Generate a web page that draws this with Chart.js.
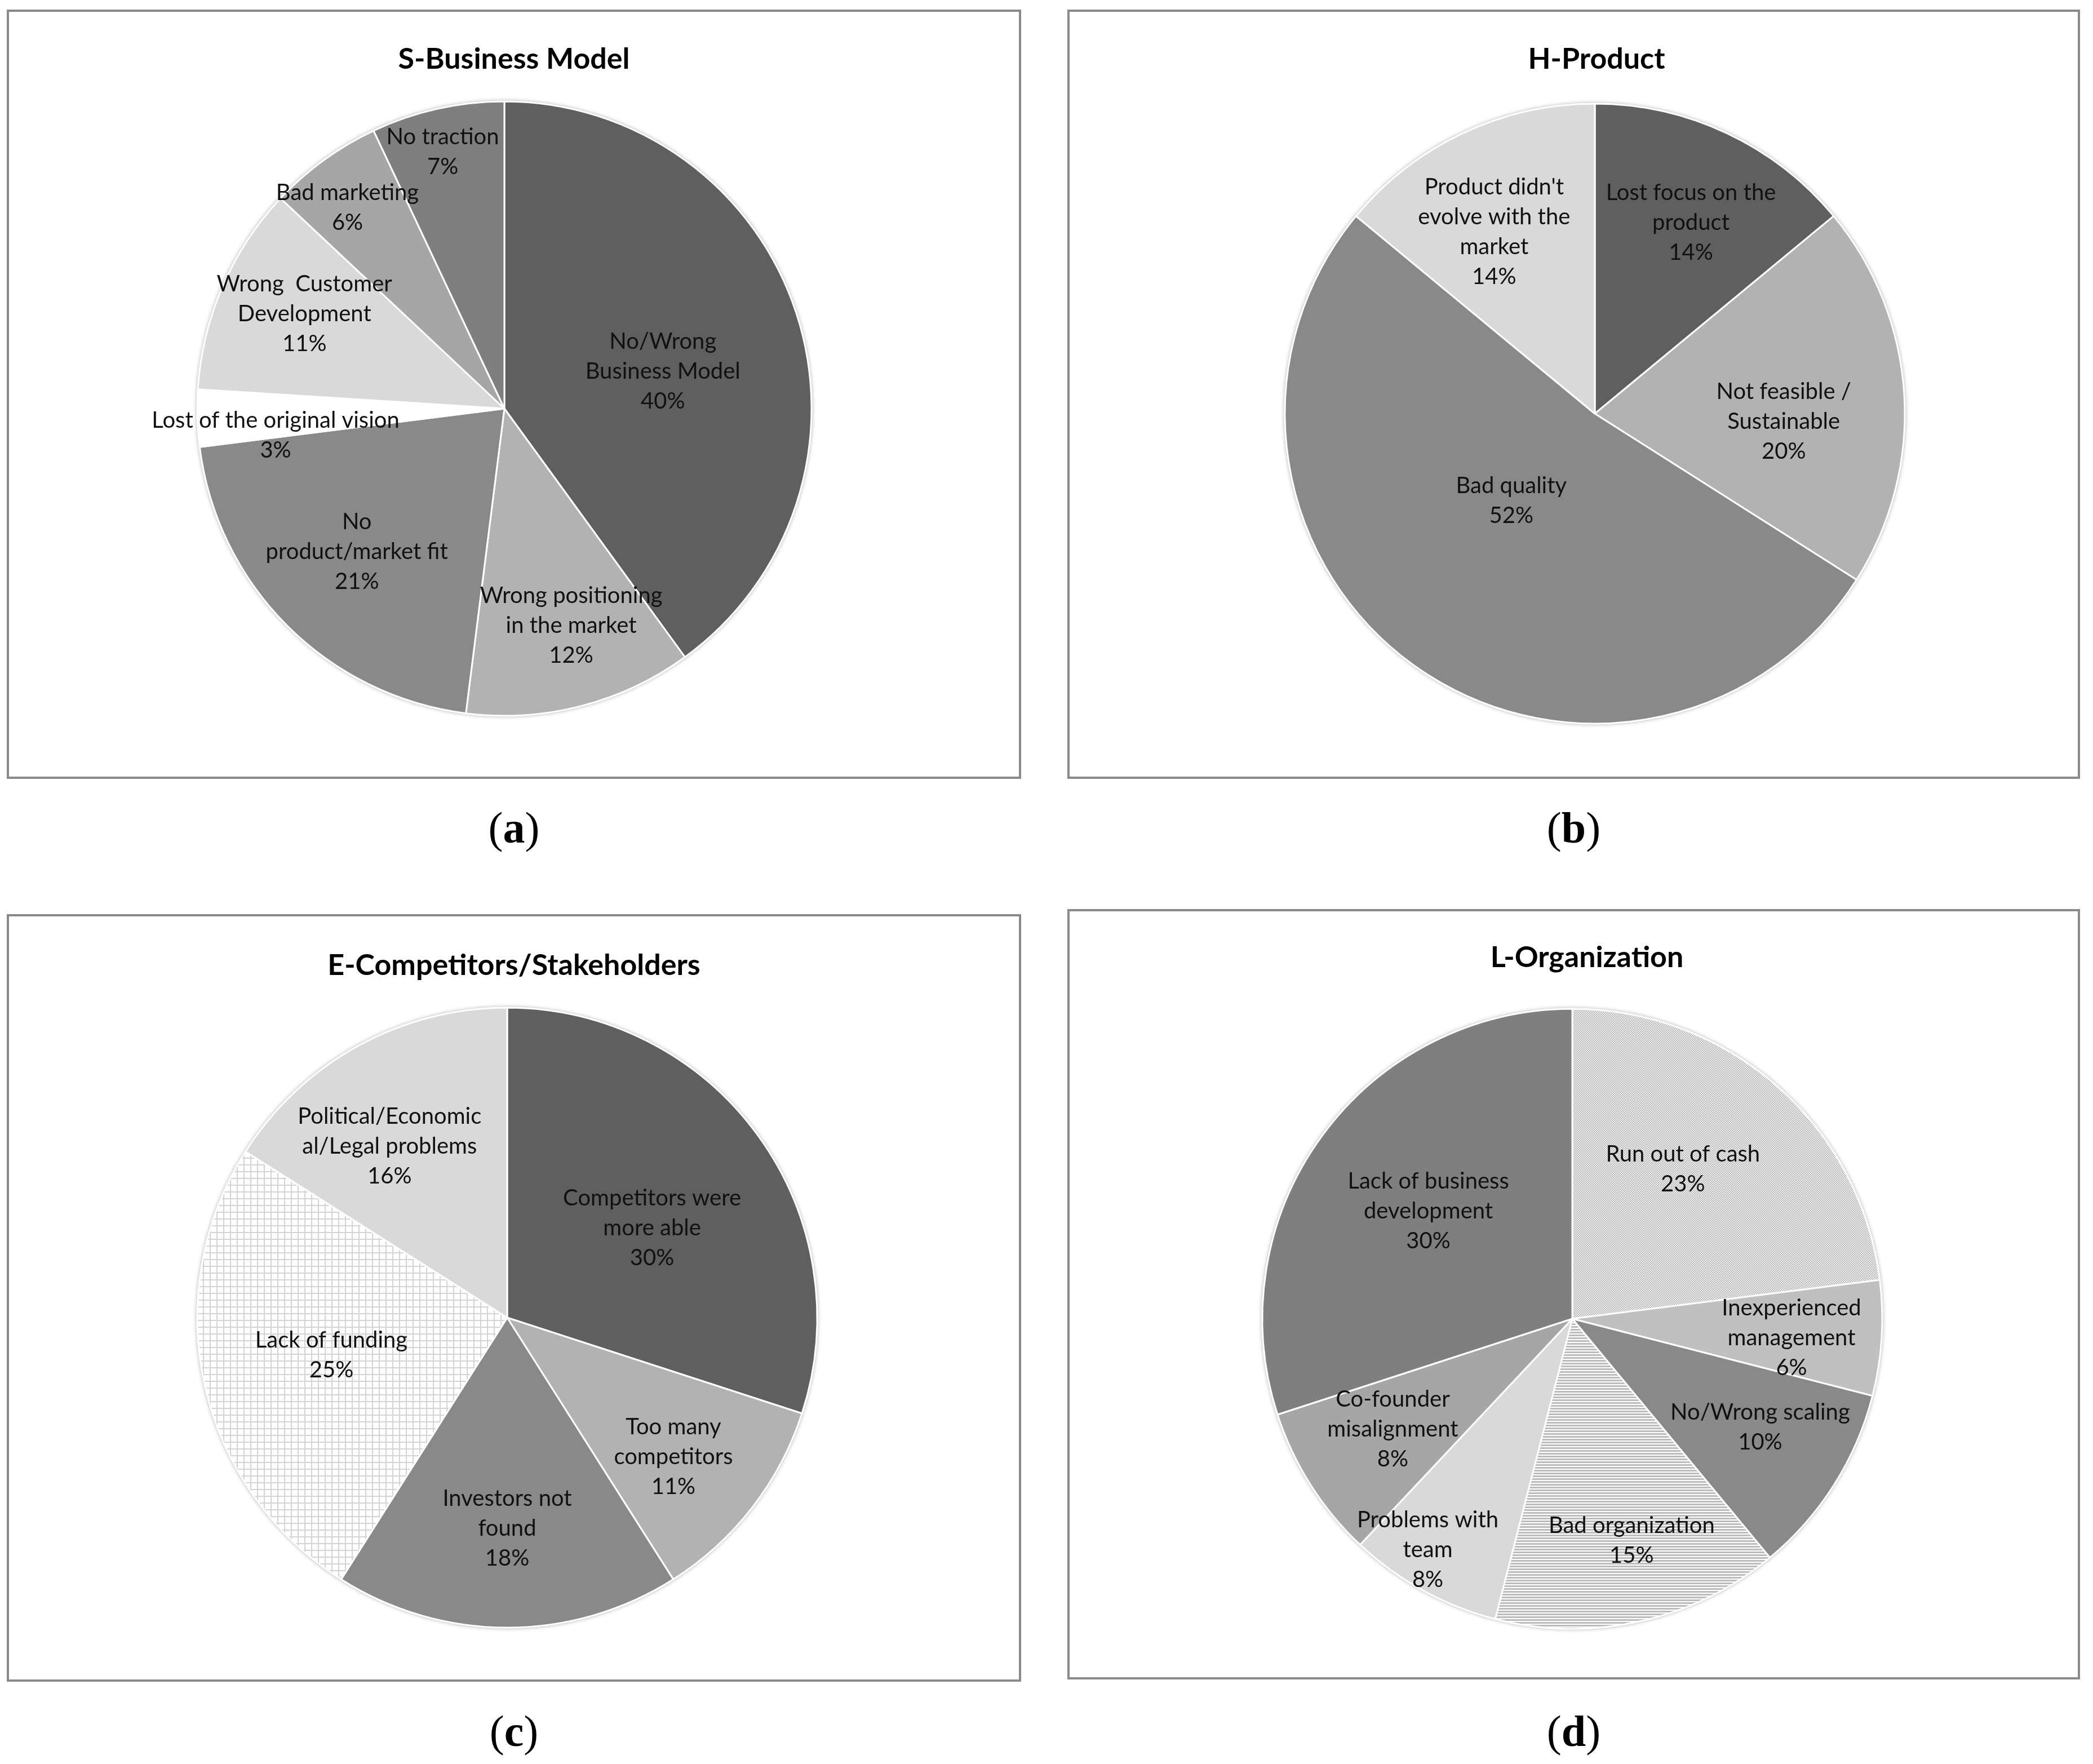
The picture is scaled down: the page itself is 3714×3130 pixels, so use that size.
<!DOCTYPE html>
<html><head><meta charset="utf-8">
<script src="https://cdn.jsdelivr.net/npm/chart.js@4.4.1/dist/chart.umd.min.js"></script>
<style>
html,body{margin:0;padding:0;background:#fff;}
body{width:3714px;height:3130px;position:relative;overflow:hidden;}
.box{position:absolute;border:4px solid #8a8a8a;box-sizing:border-box;}
canvas{position:absolute;}
.title{position:absolute;font-family:Lato,sans-serif;font-weight:700;font-size:52px;color:#000;white-space:nowrap;transform:translate(-50%,-50%);line-height:1;}
.cap{position:absolute;font-family:'Liberation Serif',serif;font-size:78px;color:#000;transform:translate(-50%,-50%);line-height:1;white-space:nowrap;}
</style></head>
<body>
<script>
// ---------- DATA ----------
const businessTitle = 'S-Business Model';
const businessLabels = [['No/Wrong','Business Model'],['Wrong positioning','in the market'],['No','product/market fit'],['Lost of the original vision'],['Wrong  Customer','Development'],['Bad marketing'],['No traction']];
const businessValues = [40,12,21,3,11,6,7];

const productTitle = 'H-Product';
const productLabels = [['Lost focus on the','product'],['Not feasible /','Sustainable'],['Bad quality'],["Product didn't",'evolve with the','market']];
const productValues = [14,20,52,14];

const competitorsTitle = 'E-Competitors/Stakeholders';
const competitorsLabels = [['Competitors were','more able'],['Too many','competitors'],['Investors not','found'],['Lack of funding'],['Political/Economic','al/Legal problems']];
const competitorsValues = [30,11,18,25,16];

const organizationTitle = 'L-Organization';
const organizationLabels = [['Run out of cash'],['Inexperienced','management'],['No/Wrong scaling'],['Bad organization'],['Problems with','team'],['Co-founder','misalignment'],['Lack of business','development']];
const organizationValues = [23,6,10,15,8,8,30];

const panelCaptions = ['a','b','c','d'];

// ---------- STYLE / PATTERNS ----------
function makePattern(w,h,draw){
  const c=document.createElement('canvas'); c.width=w; c.height=h;
  const x=c.getContext('2d'); draw(x); return x.createPattern(c,'repeat');
}
const gridPattern = makePattern(12,12,x=>{x.fillStyle='#ffffff';x.fillRect(0,0,12,12);x.fillStyle='#d4d4d4';x.fillRect(0,0,12,2);x.fillRect(0,0,2,12);});
const stripePattern = makePattern(5,5,x=>{x.fillStyle='#ffffff';x.fillRect(0,0,5,5);x.fillStyle='#bcbcbc';x.fillRect(0,0,5,3);});
const dotPattern = makePattern(4,4,x=>{x.fillStyle='#f0f0f0';x.fillRect(0,0,4,4);x.fillStyle='#bababa';x.fillRect(0,0,2,2);x.fillRect(2,2,2,2);});

const panels = [
  {title:businessTitle, labels:businessLabels, values:businessValues, cap:panelCaptions[0],
   colors:['#5f5f5f','#b2b2b2','#898989','#ffffff','#d9d9d9','#a6a6a6','#7f7f7f'],
   box:[12,17,1800,1365], center:[895,725], radius:545, titleX:912, titleY:102, capY:1469,
   rf:[0.53,0.74,0.67,0.75,0.72,0.83,0.86], da:[4.8,-2.7,0.8,-4.9,1.9,-2,-0.9]},
  {title:productTitle, labels:productLabels, values:productValues, cap:panelCaptions[1],
   colors:['#5f5f5f','#b2b2b2','#898989','#d9d9d9'],
   box:[1894,17,1797,1365], center:[2830,734], radius:550, titleX:2833, titleY:102, capY:1469,
   rf:[0.69,0.61,0.39,0.67], da:[1.5,6,7.7,-3.8]},
  {title:competitorsTitle, labels:competitorsLabels, values:competitorsValues, cap:panelCaptions[2],
   colors:['#5f5f5f','#b2b2b2','#898989',gridPattern,'#d9d9d9'],
   box:[12,1622,1800,1362], center:[900,2338], radius:550, titleX:912, titleY:1710, capY:3072,
   rf:[0.55,0.70,0.68,0.58,0.67], da:[4.2,2.2,0,0.6,-5.7]},
  {title:organizationTitle, labels:organizationLabels, values:organizationValues, cap:panelCaptions[3],
   colors:[dotPattern,'#c0c0c0','#898989',stripePattern,'#d9d9d9','#a6a6a6','#7f7f7f'],
   box:[1894,1613,1797,1367], center:[2790,2340], radius:550, titleX:2816, titleY:1696, capY:3072,
   rf:[0.60,0.71,0.70,0.74,0.88,0.68,0.58], da:[-4.9,1.4,-2.4,-2.4,3.2,0.8,0.8]}
];

const haloPlugin = {
  id:'halo',
  beforeDatasetsDraw(chart){
    const arc = chart.getDatasetMeta(0).data[0]; if(!arc) return;
    const ctx=chart.ctx; ctx.save();
    ctx.shadowColor='rgba(0,0,0,0.35)'; ctx.shadowBlur=7;
    ctx.fillStyle='#ffffff'; ctx.beginPath(); ctx.arc(arc.x,arc.y,arc.outerRadius+1,0,Math.PI*2); ctx.fill();
    ctx.restore();
  }
};
const labelPlugin = {
  id:'sliceLabels',
  afterDatasetsDraw(chart,args,opts){
    const ctx=chart.ctx, meta=chart.getDatasetMeta(0), ds=chart.data.datasets[0];
    ctx.save(); ctx.font=opts.font; ctx.fillStyle='#111'; ctx.textAlign='center'; ctx.textBaseline='middle';
    meta.data.forEach((arc,i)=>{
      const a=(arc.startAngle+arc.endAngle)/2 + opts.da[i]*Math.PI/180;
      const r=arc.outerRadius*opts.rf[i];
      const px=arc.x+Math.cos(a)*r, py=arc.y+Math.sin(a)*r;
      const lab=chart.data.labels[i];
      const lines=(Array.isArray(lab)?lab:[lab]).concat([ds.data[i]+'%']);
      lines.forEach((ln,k)=>ctx.fillText(ln,px,py+(k-(lines.length-1)/2)*opts.lh));
    });
    ctx.restore();
  }
};

panels.forEach(p=>{
  const [bx,by,bw,bh]=p.box;
  const box=document.createElement('div'); box.className='box';
  Object.assign(box.style,{left:bx+'px',top:by+'px',width:bw+'px',height:bh+'px'});
  document.body.appendChild(box);
  const t=document.createElement('div'); t.className='title'; t.textContent=p.title;
  Object.assign(t.style,{left:p.titleX+'px',top:p.titleY+'px'}); document.body.appendChild(t);
  const c=document.createElement('div'); c.className='cap'; c.innerHTML='(<b>'+p.cap+'</b>)';
  Object.assign(c.style,{left:(bx+bw/2)+'px',top:p.capY+'px'}); document.body.appendChild(c);

  const cv=document.createElement('canvas'); cv.width=bw; cv.height=bh;
  Object.assign(cv.style,{left:bx+'px',top:by+'px',width:bw+'px',height:bh+'px'});
  document.body.appendChild(cv);
  const cx=p.center[0]-bx, cy=p.center[1]-by;
  const pad={left:Math.max(0,2*cx-bw),right:Math.max(0,bw-2*cx),top:Math.max(0,2*cy-bh),bottom:Math.max(0,bh-2*cy)};
  new Chart(cv,{
    type:'pie',
    data:{labels:p.labels,datasets:[{data:p.values,backgroundColor:p.colors,borderColor:'#ffffff',borderWidth:3}]},
    options:{
      responsive:false, devicePixelRatio:1, animation:false, radius:p.radius,
      layout:{padding:pad},
      plugins:{legend:{display:false},tooltip:{enabled:false},title:{display:false},
        sliceLabels:{font:'40px Lato, sans-serif',lh:53,rf:p.rf,da:p.da}}
    },
    plugins:[haloPlugin,labelPlugin]
  });
});
</script>
</body></html>
